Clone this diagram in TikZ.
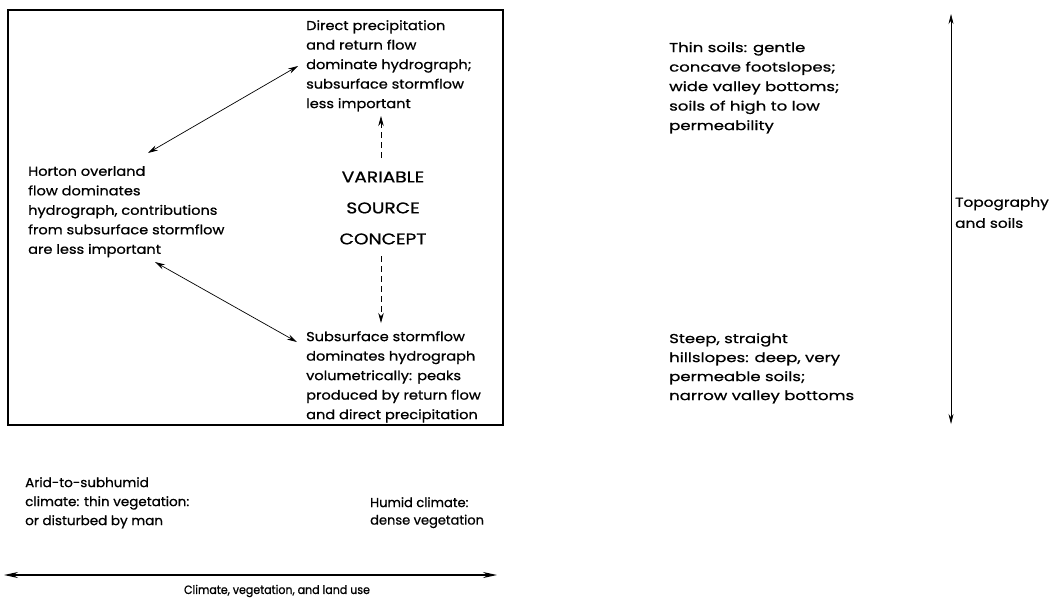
\documentclass[tikz,border=0pt]{standalone}
\usepackage{fontspec}
\setmainfont{Poppins}
\newfontfamily\fplain[FakeBold=0.8]{Poppins}
\newfontfamily\fmid[FakeStretch=1.12,FakeBold=0.8]{Poppins}
\newfontfamily\fright[FakeStretch=1.27,FakeBold=0.8]{Poppins}
\newfontfamily\ftopo[FakeStretch=1.18,FakeBold=0.8]{Poppins}
\newfontfamily\farid[FakeStretch=1.04,FakeBold=0.8]{Poppins}
\newfontfamily\fcaps[FakeStretch=1.2,FakeBold=0.8]{Poppins}
\newfontfamily\fclim[FakeStretch=0.92,FakeBold=0.8]{Poppins}
\usetikzlibrary{arrows.meta}
\begin{document}
\begin{tikzpicture}[x=1pt,y=-1pt,
  txt/.style={inner sep=0pt, align=left, anchor=north west, font=\fmid\fontsize{13}{19.5}\selectfont},
  vsc/.style={inner sep=0pt, align=center, anchor=center, font=\fcaps\fontsize{15.5}{31}\selectfont},
  dbl/.style={line width=0.7pt, {Stealth[length=10pt,width=5.5pt]}-{Stealth[length=10pt,width=5.5pt]}},
  dsh/.style={line width=0.7pt, dashed, dash pattern=on 6pt off 4pt, -{Stealth[length=10pt,width=5.5pt]}},
  axis/.style={line width=0.6pt, {Stealth[length=10pt,width=5pt]}-{Stealth[length=10pt,width=5pt]}},
  haxis/.style={line width=1.2pt, {Stealth[length=14pt,width=6pt]}-{Stealth[length=14pt,width=6pt]}}]
\useasboundingbox (0,0) rectangle (1051,598);
\draw[line width=1.3pt] (8,10) rectangle (503,425);

\node[txt] (dp) at (306,20) {Direct precipitation\\and return flow\\dominate hydrograph;\\subsurface stormflow\\less important};
\node[txt] (ho) at (28,166) {Horton overland\\flow dominates\\hydrograph, contributions\\from subsurface stormflow\\are less important};
\node[vsc] (vs) at (383,208) {VARIABLE\\SOURCE\\CONCEPT};
\node[txt] (ss) at (306,331) {Subsurface stormflow\\dominates hydrograph\\volumetrically: peaks\\produced by return flow\\and direct precipitation};

\coordinate (a1) at (148,153);
\coordinate (a2) at (298,66);
\coordinate (b1) at (155,262);
\coordinate (b2) at (297,342);
\coordinate (u1) at (381,158);
\coordinate (u2) at (381,116);
\coordinate (d1) at (381,256);
\coordinate (d2) at (381,323);
\draw[dbl] (a1) -- (a2);
\draw[dbl] (b1) -- (b2);
\draw[dsh] (u1) -- (u2);
\draw[dsh] (d1) -- (d2);

\node[txt, font=\fright\fontsize{13}{19.5}\selectfont] (th) at (669,42) {Thin soils: gentle\\concave footslopes;\\wide valley bottoms;\\soils of high to low\\permeability};
\node[txt, font=\fright\fontsize{13}{19}\selectfont] (st) at (669,333) {Steep, straight\\hillslopes: deep, very\\permeable soils;\\narrow valley bottoms};
\coordinate (v1) at (951,14);
\coordinate (v2) at (951,424);
\draw[axis] (v1) -- (v2);
\node[txt, font=\ftopo\fontsize{13}{21}\selectfont] (to) at (955,197) {Topography\\and soils};

\node[txt, font=\farid\fontsize{13}{19}\selectfont] (ar) at (25,477) {Arid-to-subhumid\\climate: thin vegetation:\\or disturbed by man};
\node[txt, font=\fplain\fontsize{13}{17.5}\selectfont] (hu) at (370,497) {Humid climate:\\dense vegetation};
\coordinate (h1) at (4,575);
\coordinate (h2) at (497,575);
\draw[haxis] (h1) -- (h2);
\node[inner sep=0pt, font=\fclim\fontsize{12}{15}\selectfont] (cl) at (277,591) {Climate, vegetation, and land use};
\end{tikzpicture}
\end{document}
